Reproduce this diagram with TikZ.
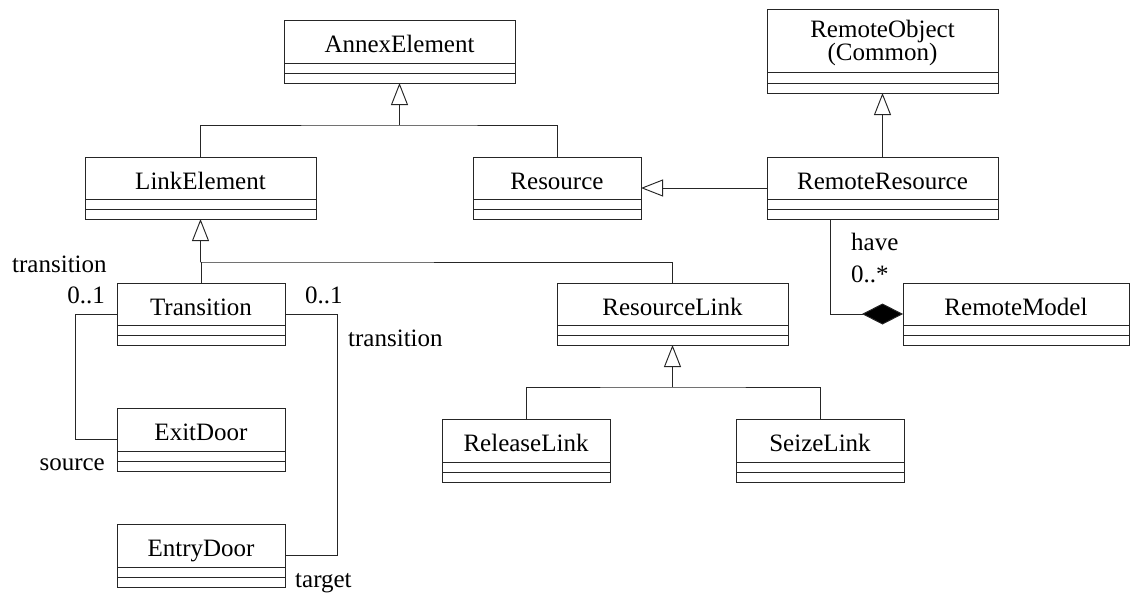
\documentclass[tikz,border=0pt]{standalone}
\usepackage{fontspec}
\setmainfont{Liberation Serif}
\usetikzlibrary{arrows.meta,calc}
\tikzset{
  ln/.style={draw=black!85, line width=0.95pt},
  clsbox/.style={ln, rectangle, inner sep=0pt, outer sep=0pt},
  clstext/.style={font=\fontsize{25}{21}\selectfont, inner sep=0pt, align=center},
  lbl/.style={font=\fontsize{25}{21}\selectfont, inner sep=0pt},
  gen/.style={ln, -{Triangle[open, length=22pt, width=17pt, line width=0.95pt]}},
  comp/.style={ln, -{Diamond[length=41pt, width=21pt, fill=black]}},
}
\newcommand\umlcls[7]{% name, x1, y1, x2, y2, label, name-compartment text y
  \node[clsbox, minimum width={#4-#2}, minimum height={#5-#3}, anchor=north west] (#1) at (#2,#3) {};
  \draw[ln] (#2,#5-20) -- (#4,#5-20);
  \draw[ln] (#2,#5-10) -- (#4,#5-10);
  \node[clstext, anchor=base] (#1-t) at ({(#2+#4)/2},#7) {#6};
}
\begin{document}
\begin{tikzpicture}[x=1pt, y=-1pt]
\useasboundingbox (0,0) rectangle (1130,595);
\umlcls{AnnexElement}{284}{20}{515}{83}{AnnexElement}{52}
\umlcls{LinkElement}{85}{157}{316}{219}{LinkElement}{189}
\umlcls{Resource}{473}{157}{641}{219}{Resource}{189}
\umlcls{RemoteResource}{767}{157}{998}{219}{RemoteResource}{189}
\node[clsbox, minimum width=231, minimum height=84, anchor=north west] (RemoteObject) at (767,9) {};
\draw[ln] (767,72) -- (998,72);
\draw[ln] (767,83) -- (998,83);
\node[clstext] (RemoteObject-t) at (882.5,43) {RemoteObject\\(Common)};
\umlcls{RemoteModel}{903}{283}{1129}{345}{RemoteModel}{315}
\umlcls{ResourceLink}{557}{283}{788}{345}{ResourceLink}{315}
\umlcls{ReleaseLink}{442}{419}{610}{482}{ReleaseLink}{451}
\umlcls{SeizeLink}{736}{419}{904}{482}{SeizeLink}{451}
\umlcls{Transition}{117}{283}{285}{345}{Transition}{315}
\umlcls{ExitDoor}{117}{408}{285}{471}{ExitDoor}{440}
\umlcls{EntryDoor}{117}{524}{285}{587}{EntryDoor}{556}

% generalization AnnexElement
\coordinate (j1) at (AnnexElement.south |- 0,125);
\draw[ln] (LinkElement.north) |- (j1) -| (Resource.north);
\draw[gen] (j1) -- (AnnexElement.south);
% RemoteResource
\draw[gen] (RemoteResource.north) -- (RemoteObject.south);
\draw[gen] (RemoteResource.west) -- (Resource.east);
% LinkElement children
\coordinate (j2) at (LinkElement.south |- 0,262);
\draw[ln] (Transition.north) |- (j2) -| (ResourceLink.north);
\draw[gen] (j2) -- (LinkElement.south);
% ResourceLink children
\coordinate (j3) at (ResourceLink.south |- 0,387);
\draw[ln] (ReleaseLink.north) |- (j3) -| (SeizeLink.north);
\draw[gen] (j3) -- (ResourceLink.south);
% associations
\draw[ln] (Transition.west) -- ++(-42,0) |- (ExitDoor.west);
\draw[ln] (Transition.east) -- ++(52,0) |- (EntryDoor.east);
% composition
\coordinate (c1) at ($(RemoteResource.south west)+(63,0)$);
\draw[comp] (c1) |- (RemoteModel.west);

% labels
\node[lbl, anchor=base west] (l1) at (12,272) {transition};
\node[lbl, anchor=base east] (l2) at (105,303) {0..1};
\node[lbl, anchor=base west] (l3) at (305,303) {0..1};
\node[lbl, anchor=base west] (l4) at (348,346) {transition};
\node[lbl, anchor=base east] (l5) at (105,470) {source};
\node[lbl, anchor=base west] (l6) at (295,587) {target};
\node[lbl, anchor=base west] (l7) at (851,250) {have};
\node[lbl, anchor=base west] (l8) at (851,282) {0..*};
\end{tikzpicture}
\end{document}
